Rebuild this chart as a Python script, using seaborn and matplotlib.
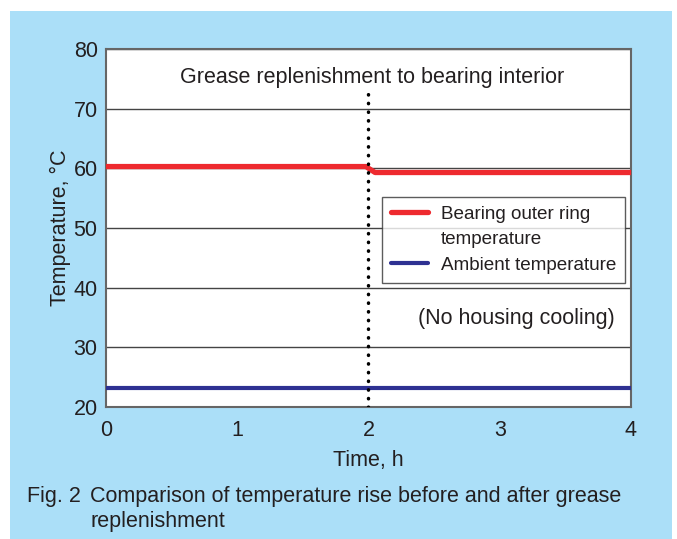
import seaborn as sns
import matplotlib.pyplot as plt
from matplotlib.patches import Rectangle
from matplotlib.lines import Line2D

sns.set_theme(style="white")
plt.rcParams["font.family"] = ["Liberation Sans", "DejaVu Sans"]

# data
bearing_time = [0, 1.98, 2.05, 4]
bearing_temp = [60.3, 60.3, 59.3, 59.3]
ambient_time = [0, 4]
ambient_temp = [23.2, 23.2]
replenish_time = 2
x_ticks = [0, 1, 2, 3, 4]
y_ticks = [20, 30, 40, 50, 60, 70, 80]

txt = "#231f20"
fs = 15.5
fig = plt.figure(figsize=(6.77, 5.39), dpi=100, facecolor="white")
fig.patches.append(Rectangle((10 / 677, 0), 662 / 677, 528 / 539, transform=fig.transFigure,
                             facecolor="#abdff8", edgecolor="none", zorder=-1))
ax = fig.add_axes([106 / 677, 1 - 407 / 539, 525 / 677, 358 / 539])
ax.set_facecolor("white")

sns.lineplot(x=bearing_time, y=bearing_temp, ax=ax, color="#ee2a2f", lw=3.8,
             label="Bearing outer ring", zorder=4)
sns.lineplot(x=ambient_time, y=ambient_temp, ax=ax, color="#2e3192", lw=3.0,
             label="Ambient temperature", zorder=4)
ax.axvline(replenish_time, ymin=0, ymax=0.88, color="black", lw=2.5,
           linestyle=(0, (0.1, 2.4)), dash_capstyle="round", zorder=5)

ax.set_xlim(0, 4)
ax.set_ylim(20, 80)
ax.set_xticks(x_ticks)
ax.set_yticks(y_ticks)
ax.yaxis.grid(True, color="#444444", lw=1.0)
ax.set_axisbelow(True)
for s in ax.spines.values():
    s.set_color("#666666")
    s.set_linewidth(1.5)
ax.tick_params(direction="in", length=5, width=1, color="#555555", labelsize=fs,
               labelcolor=txt)
ax.tick_params(axis="x", pad=9)
ax.tick_params(axis="y", pad=6)
ax.set_xlabel("Time, h", fontsize=fs, color=txt, labelpad=7)
ax.set_ylabel("Temperature, °C", fontsize=fs, color=txt, labelpad=2)

ax.text(2.03, 75.3, "Grease replenishment to bearing interior", ha="center", va="center",
        fontsize=fs, color=txt)
ax.text(3.13, 34.9, "(No housing cooling)", ha="center", va="center", fontsize=fs, color=txt)

# second line of the red label as a row without a handle
handles, labels = ax.get_legend_handles_labels()
handles.insert(1, Line2D([], [], color="none"))
labels.insert(1, "temperature")
leg = ax.legend(handles, labels, loc="upper left", bbox_to_anchor=(0.526, 0.587),
                borderaxespad=0, fontsize=13.6, frameon=True, fancybox=False,
                handlelength=2.0, handletextpad=0.65, borderpad=0.45, labelspacing=0.45)
leg.get_frame().set_edgecolor("#333333")
leg.get_frame().set_linewidth(1.0)
for t in leg.get_texts():
    t.set_color(txt)

fig.text(27 / 677, 1 - 502 / 539, "Fig. 2", fontsize=fs, color=txt, va="baseline")
fig.text(90 / 677, 1 - 502 / 539, "Comparison of temperature rise before and after grease",
         fontsize=fs, color=txt, va="baseline")
fig.text(90 / 677, 1 - 527 / 539, "replenishment", fontsize=fs, color=txt, va="baseline")

fig.savefig("out.png", dpi=100, facecolor="white")
